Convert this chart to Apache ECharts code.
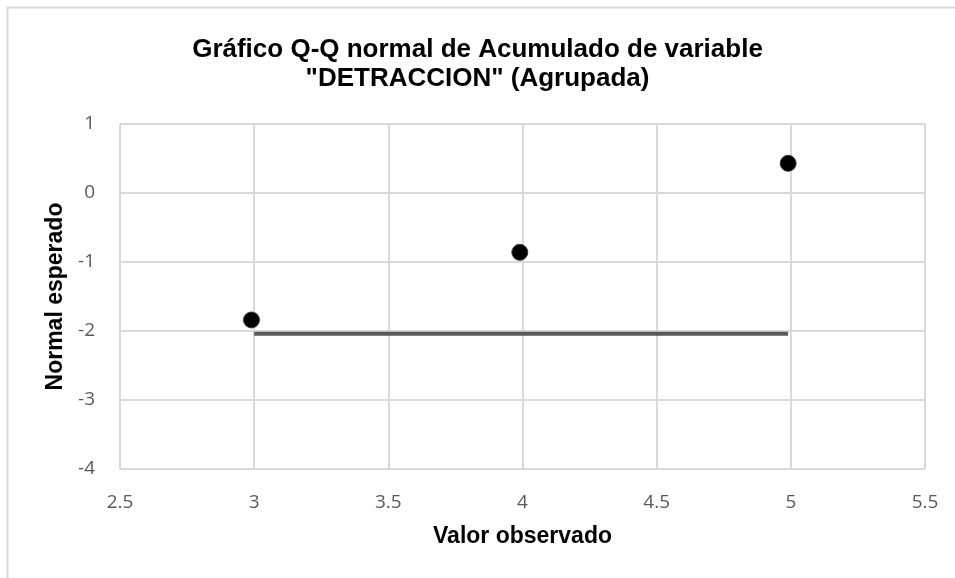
<!DOCTYPE html>
<html>
<head>
<meta charset="utf-8">
<script src="https://cdn.jsdelivr.net/npm/echarts@6/dist/echarts.min.js"></script>
<style>
  html, body { margin: 0; padding: 0; background: #fff; }
  #chart { width: 955px; height: 578px; }
</style>
</head>
<body>
<div id="chart"></div>
<script>
  // valores
  var observado = [2.99, 3.99, 4.99];
  var esperado = [-1.84, -0.86, 0.43];
  var lineaX = [3, 4.99];
  var lineaY = [-2.04, -2.04];

  var chart = echarts.init(document.getElementById("chart"));

  var puntos = observado.map(function (v, i) { return [v, esperado[i]]; });
  var linea = lineaX.map(function (v, i) { return [v, lineaY[i]]; });

  var option = {
    animation: false,
    title: {
      text: 'Gráfico Q-Q normal de Acumulado de variable\n"DETRACCION" (Agrupada)',
      left: "center",
      top: 30,
      textStyle: {
        fontFamily: "Liberation Sans",
        fontSize: 26,
        fontWeight: "bold",
        color: "#000",
        lineHeight: 29
      }
    },
    graphic: [{
      type: "rect",
      shape: { x: 7.5, y: 7.5, width: 970, height: 600 },
      style: { fill: null, stroke: "#d9d9d9", lineWidth: 2 },
      silent: true
    }],
    grid: { left: 120, right: 30, top: 124, bottom: 109 },
    xAxis: {
      type: "value",
      min: 2.5,
      max: 5.5,
      interval: 0.5,
      name: "Valor observado",
      nameLocation: "middle",
      nameGap: 56,
      nameTextStyle: { fontFamily: "Liberation Sans", fontSize: 23, fontWeight: "bold", color: "#000" },
      axisLine: { show: false },
      axisTick: { show: false },
      axisLabel: { fontFamily: "Open Sans", fontSize: 19, color: "#595959", margin: 24 },
      splitLine: { show: true, lineStyle: { color: "#d9d9d9", width: 2 } }
    },
    yAxis: {
      type: "value",
      min: -4,
      max: 1,
      interval: 1,
      name: "Normal esperado",
      nameLocation: "middle",
      nameGap: 53,
      nameTextStyle: { fontFamily: "Liberation Sans", fontSize: 23, fontWeight: "bold", color: "#000" },
      axisLine: { show: false },
      axisTick: { show: false },
      axisLabel: { fontFamily: "Open Sans", fontSize: 19, color: "#595959", margin: 25 },
      splitLine: { show: true, lineStyle: { color: "#d9d9d9", width: 2 } }
    },
    series: [
      {
        type: "line",
        data: linea,
        symbol: "none",
        lineStyle: { color: "#595959", width: 4 },
        z: 2
      },
      {
        type: "scatter",
        data: puntos,
        symbol: "circle",
        symbolSize: 16,
        itemStyle: { color: "#000", opacity: 1, borderColor: "#3a3a3a", borderWidth: 1 },
        z: 3
      }
    ]
  };

  chart.setOption(option);
</script>
</body>
</html>
